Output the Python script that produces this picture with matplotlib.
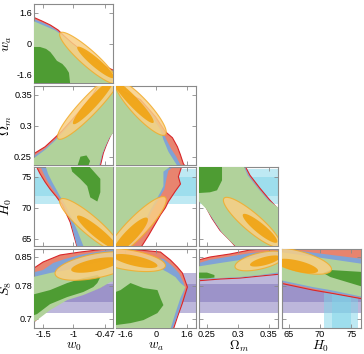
import numpy as np
import matplotlib
matplotlib.use("Agg")
import matplotlib.pyplot as plt

plt.rcParams["mathtext.fontset"] = "cm"
plt.rcParams["font.family"] = ["Liberation Sans", "DejaVu Sans"]
plt.rcParams["axes.unicode_minus"] = False

# ---------------------------------------------------------------- axes
param_labels = [r"$w_0$", r"$w_a$", r"$\Omega_m$", r"$H_0$", r"$S_8$"]
param_limits = [(-1.65, -0.34), (-2.05, 2.05), (0.237, 0.365), (63.8, 76.5), (0.678, 0.869)]
param_ticks = [[-1.5, -1, -0.47], [-1.6, 0, 1.6], [0.25, 0.3, 0.35], [65, 70, 75], [0.7, 0.78, 0.85]]
tick_text = [["-1.5", "-1", "-0.47"], ["-1.6", "0", "1.6"], ["0.25", "0.3", "0.35"],
             ["65", "70", "75"], ["0.7", "0.78", "0.85"]]

# external priors (mean, 1 and 2 sigma half widths)
h0_band_mean = 73.4
h0_band_sig = [1.55, 2.75]
s8_band_mean = 0.762
s8_band_sig = [0.022, 0.048]

# ---------------------------------------------------------------- contours (x list, y list)
# w0 - wa
red_w0_wa = ([-1.7, -1.52, -1.38, -1.25, -1.15, -1.02, -0.85, -0.68, -0.52, -0.3, -0.3, -1.7],
             [1.42, 1.17, 0.96, 0.70, 0.39, 0.03, -0.39, -0.75, -1.11, -1.44, -2.1, -2.1])
blue_w0_wa = ([-1.7, -1.52, -1.38, -1.25, -1.15, -1.02, -0.85, -0.68, -0.52, -0.3, -0.3, -1.7],
              [1.33, 1.10, 0.90, 0.63, 0.33, -0.02, -0.43, -0.79, -1.15, -1.48, -2.1, -2.1])
green_w0_wa = ([-1.7, -1.47, -1.3, -1.18, -1.05, -0.88, -0.72, -0.55, -0.3, -0.3, -1.7],
               [1.22, 0.91, 0.68, 0.42, 0.06, -0.35, -0.72, -1.08, -1.52, -2.1, -2.1])
dark_w0_wa = ([-1.7, -1.55, -1.45, -1.38, -1.33, -1.27, -1.18, -1.12, -1.07, -1.05, -1.7],
              [-0.18, -0.18, -0.28, -0.44, -0.64, -0.9, -1.06, -1.27, -1.52, -2.1, -2.1])
orange_w0_wa = [(-0.75, -0.75, 0.467, -1.30, -0.089, -0.309),
                (-0.63, -0.98, 0.30, -0.80, -0.05, -0.175)]

# w0 - Omega_m
red_w0_om = ([-1.7, -1.467, -1.3, -1.183, -1.017, -0.85, -0.683, -0.55, -0.3, -0.3, -0.383, -0.45, -0.5, -0.55, -1.7],
             [0.252, 0.266, 0.281, 0.292, 0.310, 0.329, 0.349, 0.370, 0.370, 0.297, 0.284, 0.269, 0.256, 0.235, 0.235])
blue_w0_om = ([-1.7, -1.467, -1.3, -1.183, -1.017, -0.85, -0.683, -0.55, -0.3, -0.3, -0.39, -0.457, -0.51, -0.56, -1.7],
              [0.248, 0.263, 0.278, 0.290, 0.308, 0.327, 0.347, 0.370, 0.370, 0.295, 0.282, 0.268, 0.255, 0.235, 0.235])
green_w0_om = ([-1.7, -1.467, -1.3, -1.183, -1.017, -0.85, -0.683, -0.55, -0.3, -0.3, -0.4, -0.467, -0.52, -0.57, -1.7],
               [0.244, 0.261, 0.276, 0.288, 0.306, 0.326, 0.346, 0.370, 0.370, 0.293, 0.281, 0.267, 0.254, 0.235, 0.235])
dark_w0_om = ([-0.93, -0.88, -0.78, -0.72, -0.75], [0.235, 0.250, 0.252, 0.243, 0.235])
orange_w0_om = [(-0.717, 0.334, 0.533, 0.055, 0.109, -0.010),
                (-0.667, 0.339, 0.333, 0.036, 0.062, -0.0055)]

# w0 - H0
red_w0_h0 = ([-1.63, -1.55, -1.467, -1.383, -1.283, -1.183, -1.05, -0.93, -0.3, -0.3],
             [77.0, 75.47, 74.15, 72.99, 71.82, 70.5, 67.68, 63.5, 63.5, 77.0])
blue_w0_h0 = ([-1.56, -1.49, -1.42, -1.34, -1.25, -1.165, -1.05, -0.93, -0.3, -0.3],
              [77.0, 75.47, 74.15, 72.99, 71.82, 70.6, 68.0, 63.5, 63.5, 77.0])
green_w0_h0 = ([-1.467, -1.417, -1.35, -1.283, -1.217, -1.15, -1.05, -0.933, -0.817, -0.3, -0.3],
               [77.0, 75.47, 74.15, 72.99, 71.82, 70.83, 68.84, 66.35, 63.5, 63.5, 77.0])
dark_w0_h0 = ([-1.05, -0.767, -0.55, -0.55, -0.6, -0.717, -0.767, -0.883, -1.017],
              [77.0, 77.0, 74.64, 72.49, 71.0, 71.66, 73.48, 74.64, 75.8])
orange_w0_h0 = [(-0.717, 67.18, 0.5, -4.15, 0.096, 1.15),
                (-0.6, 66.02, 0.333, -2.65, 0.052, 0.65)]

# wa - Omega_m
red_wa_om = ([-2.1, -0.806, -0.029, 0.489, 0.852, 1.11, 1.266, 1.42, 1.5, -2.1],
             [0.3618, 0.3423, 0.3148, 0.2904, 0.2807, 0.2661, 0.2532, 0.2386, 0.235, 0.235])
blue_wa_om = ([-2.1, -0.9, -0.15, 0.33, 0.55, 0.8, 1.05, 1.3, -2.1],
              [0.36, 0.342, 0.316, 0.292, 0.277, 0.262, 0.25, 0.235, 0.235])
green_wa_om = ([-2.1, -1.066, -0.288, 0.23, 0.385, 0.644, 1.11, -2.1],
               [0.3585, 0.3423, 0.318, 0.2937, 0.2775, 0.258, 0.235, 0.235])
orange_wa_om = [(-0.806, 0.3294, 1.295, -0.0438, 0.342, 0.0099),
                (-1.17, 0.339, 1.036, -0.034, 0.187, 0.0056)]

# wa - H0
red_wa_h0 = ([1.37, 1.16, 1.27, 1.0, 0.644, 0.489, 0.23, -0.081, -0.392, -0.806, -2.1, -2.1],
             [77.0, 74.98, 73.81, 72.65, 70.99, 70.0, 68.84, 67.18, 65.52, 63.5, 63.5, 77.0])
blue_wa_h0 = ([1.06, 0.644, 0.54, 0.44, 0.28, 0.075, -0.236, -0.55, -0.96, -1.38, -2.1, -2.1],
              [77.0, 75.97, 74.64, 72.99, 72.16, 70.99, 69.34, 67.35, 65.36, 63.5, 63.5, 77.0])
green_wa_h0 = ([0.903, 0.385, 0.385, 0.23, 0.023, -0.289, -0.6, -1.01, -1.43, -2.1, -2.1],
               [77.0, 75.8, 73.48, 72.49, 71.33, 69.67, 67.68, 65.52, 63.5, 63.5, 77.0])
orange_wa_h0 = [(-1.065, 66.68, 1.554, 4.975, 0.366, -1.17),
                (-1.325, 65.52, 0.88, 2.82, 0.22, -0.70)]

# Omega_m - H0
red_om_h0 = ([0.23, 0.2467, 0.258, 0.271, 0.2872, 0.2986, 0.37, 0.37, 0.352, 0.336, 0.3197, 0.31, 0.23],
             [72.5, 70.39, 68.3, 66.37, 64.76, 63.5, 63.5, 69.27, 71.2, 73.1, 75.2, 77.0, 77.0])
blue_om_h0 = ([0.23, 0.2475, 0.2595, 0.2725, 0.2885, 0.2995, 0.37, 0.37, 0.3505, 0.334, 0.318, 0.309, 0.23],
              [72.1, 70.1, 68.1, 66.2, 64.6, 63.5, 63.5, 69.5, 71.2, 73.1, 75.2, 77.0, 77.0])
green_om_h0 = ([0.23, 0.248, 0.261, 0.274, 0.29, 0.30, 0.37, 0.37, 0.349, 0.3326, 0.316, 0.308, 0.23],
               [71.7, 69.9, 68.0, 66.05, 64.4, 63.5, 63.5, 69.7, 71.2, 73.1, 75.2, 77.0, 77.0])
dark_om_h0 = ([0.23, 0.2743, 0.2743, 0.2662, 0.2548, 0.23],
              [77.0, 77.0, 74.4, 72.8, 72.48, 72.32])
orange_om_h0 = [(0.3229, 67.66, 0.0454, -3.86, 0.0095, 1.10),
                (0.3359, 66.69, 0.0276, -2.25, 0.0052, 0.62)]

# w0 - S8
red_w0_s8 = ([-1.7, -1.5, -1.217, -0.883, -0.6, -0.3, -0.3, -0.383, -0.55, -0.833, -1.1, -1.383, -1.7],
             [0.818, 0.8375, 0.8545, 0.8617, 0.8666, 0.872, 0.7965, 0.7939, 0.777, 0.7625, 0.7503, 0.7286, 0.686])
blue_w0_s8 = ([-1.7, -1.5, -1.333, -1.133, -0.883, -0.6, -0.3, -0.3, -0.383, -0.55, -0.833, -1.1, -1.383, -1.7],
              [0.811, 0.8182, 0.8351, 0.845, 0.855, 0.862, 0.868, 0.7975, 0.795, 0.7785, 0.764, 0.752, 0.7305, 0.69])
green_w0_s8 = ([-1.7, -1.383, -1.1, -0.833, -0.55, -0.3, -0.3, -0.383, -0.55, -0.833, -1.1, -1.383, -1.6, -1.7],
               [0.800, 0.811, 0.8182, 0.828, 0.8375, 0.848, 0.792, 0.7891, 0.7746, 0.7576, 0.7455, 0.7213, 0.6971, 0.69])
dark_w0_s8 = ([-1.7, -1.383, -1.1, -0.833, -0.6, -0.55, -0.6, -0.667, -0.833, -1.1, -1.383, -1.6, -1.7],
              [0.7576, 0.7697, 0.7867, 0.7988, 0.806, 0.8012, 0.7867, 0.777, 0.765, 0.7528, 0.7358, 0.7116, 0.7067])
orange_w0_s8 = [(-0.633, 0.8278, 0.667, 0.0194, 0.039, -0.0285),
                (-0.633, 0.8303, 0.40, 0.0121, 0.02, -0.0143)]

# wa - S8
red_wa_s8 = ([-2.1, 0.23, 0.748, 1.11, 1.37, 1.629, 1.37, 1.11, 0.903, -2.1],
             [0.872, 0.8617, 0.8424, 0.8254, 0.8109, 0.777, 0.7382, 0.7043, 0.675, 0.675])
blue_wa_s8 = ([-2.1, 0.4, 0.85, 1.2, 1.45, 1.5, 1.3, 1.05, 0.85, -2.1],
              [0.86, 0.845, 0.828, 0.81, 0.785, 0.77, 0.735, 0.70, 0.675, 0.675])
green_wa_s8 = ([-2.1, -0.3, 0.592, 1.007, 1.266, 1.525, 1.266, 1.007, 0.748, -2.1],
               [0.84, 0.835, 0.813, 0.8012, 0.7867, 0.777, 0.7503, 0.714, 0.675, 0.675])
dark_wa_s8 = ([-2.1, -1.84, -1.325, -0.651, 0.074, 0.23, 0.385, 0.074, -0.651, -1.325, -2.1],
              [0.765, 0.7697, 0.7867, 0.7746, 0.7697, 0.7503, 0.7334, 0.714, 0.6971, 0.6898, 0.685])
orange_wa_s8 = [(-1.428, 0.8424, 1.917, -0.0145, -0.083, -0.0239),
                (-1.066, 0.84, 1.14, -0.0121, -0.057, -0.0119)]

# Omega_m - S8
red_om_s8 = ([0.23, 0.2548, 0.2872, 0.3197, 0.37, 0.37, 0.3359, 0.3035, 0.271, 0.23],
             [0.84, 0.8496, 0.8569, 0.8666, 0.873, 0.8085, 0.8036, 0.7988, 0.7964, 0.7915])
blue_om_s8 = ([0.23, 0.2548, 0.2872, 0.3197, 0.37, 0.37, 0.3359, 0.3035, 0.271, 0.23],
              [0.832, 0.843, 0.851, 0.859, 0.866, 0.81, 0.805, 0.80, 0.798, 0.793])
green_om_s8 = ([0.23, 0.271, 0.3035, 0.3359, 0.37, 0.37, 0.3359, 0.3035, 0.271, 0.23],
               [0.8254, 0.8351, 0.8424, 0.8496, 0.8569, 0.8133, 0.806, 0.8012, 0.7988, 0.7964])
dark_om_s8 = ([0.235, 0.25, 0.262, 0.262, 0.25, 0.235],
              [0.812, 0.812, 0.806, 0.800, 0.798, 0.798])
orange_om_s8 = [(0.3359, 0.84, 0.0405, 0.0145, 0.003, -0.0188),
                (0.344, 0.84, 0.0243, 0.0097, 0.0016, -0.0094)]

# H0 - S8
red_h0_s8 = ([63.5, 70.0, 77.0, 77.0, 71.66, 68.84, 63.5],
             [0.875, 0.872, 0.869, 0.748, 0.7625, 0.7697, 0.7867])
blue_h0_s8 = ([63.5, 70.0, 77.0, 77.0, 71.66, 68.84, 63.5],
              [0.871, 0.858, 0.8448, 0.7505, 0.765, 0.7733, 0.790])
green_h0_s8 = ([63.5, 70.0, 77.0, 77.0, 71.66, 68.84, 63.5],
               [0.8617, 0.848, 0.8327, 0.7528, 0.7697, 0.777, 0.7939])
dark_h0_s8 = ([70.5, 71.66, 77.0, 77.0, 71.66],
              [0.811, 0.8182, 0.8133, 0.777, 0.8012])
orange_h0_s8 = [(66.35, 0.84, 5.47, -0.0218, -0.436, -0.0234),
                (66.35, 0.8278, 3.32, -0.0121, -0.23, -0.0128)]

# ---------------------------------------------------------------- styling
RED_FILL, RED_EDGE = "#e8846f", "#d8262a"
BLUE_FILL = "#80a3d6"
GREEN_LIGHT, GREEN_DARK = "#b1d29b", "#4e9c33"
ORANGE_LIGHT, ORANGE_DARK, ORANGE_EDGE = "#f9cf85", "#f1a311", "#f2ac2a"
CYAN = "#7fd5e8"
PURPLE = "#7d71b8"
SPINE = "#8a8a8a"

panels = {
    (0, 1): (red_w0_wa, blue_w0_wa, green_w0_wa, dark_w0_wa, orange_w0_wa),
    (0, 2): (red_w0_om, blue_w0_om, green_w0_om, dark_w0_om, orange_w0_om),
    (0, 3): (red_w0_h0, blue_w0_h0, green_w0_h0, dark_w0_h0, orange_w0_h0),
    (1, 2): (red_wa_om, blue_wa_om, green_wa_om, None, orange_wa_om),
    (1, 3): (red_wa_h0, blue_wa_h0, green_wa_h0, None, orange_wa_h0),
    (2, 3): (red_om_h0, blue_om_h0, green_om_h0, dark_om_h0, orange_om_h0),
    (0, 4): (red_w0_s8, blue_w0_s8, green_w0_s8, dark_w0_s8, orange_w0_s8),
    (1, 4): (red_wa_s8, blue_wa_s8, green_wa_s8, dark_wa_s8, orange_wa_s8),
    (2, 4): (red_om_s8, blue_om_s8, green_om_s8, dark_om_s8, orange_om_s8),
    (3, 4): (red_h0_s8, blue_h0_s8, green_h0_s8, dark_h0_s8, orange_h0_s8),
}


def ellipse(c):
    """Ellipse from centre and two conjugate semi-axis vectors (data units)."""
    cx, cy, ax_, ay_, bx, by = c
    t = np.linspace(0, 2 * np.pi, 120)
    return cx + ax_ * np.cos(t) + bx * np.sin(t), cy + ay_ * np.cos(t) + by * np.sin(t)


W, H = 364, 354
fig = plt.figure(figsize=(W / 100, H / 100), dpi=100)
col_left = [34, 116.5, 199, 281.5]
row_top = [4, 85.7, 167.3, 249]
size = 79

for (xi, yi), (red, blue, green, dark, orange) in panels.items():
    r, c = yi - 1, xi
    ax = fig.add_axes([col_left[c] / W, 1 - (row_top[r] + size) / H, size / W, size / H])

    # prior bands
    if yi == 3:
        for s in h0_band_sig[::-1]:
            ax.axhspan(h0_band_mean - s, h0_band_mean + s, color=CYAN, alpha=0.5, lw=0, zorder=0)
    if yi == 4:
        for s in s8_band_sig[::-1]:
            ax.axhspan(s8_band_mean - s, s8_band_mean + s, color=PURPLE, alpha=0.5, lw=0, zorder=0)
    if xi == 3:
        for s in h0_band_sig[::-1]:
            ax.axvspan(h0_band_mean - s, h0_band_mean + s, color=CYAN, alpha=0.5, lw=0, zorder=0)

    ax.fill(*red, fc=RED_FILL, ec=RED_EDGE, lw=0.8, zorder=1)
    ax.fill(*blue, fc=BLUE_FILL, ec="none", zorder=2)
    ax.fill(*green, fc=GREEN_LIGHT, ec="none", zorder=3)
    if dark is not None:
        ax.fill(*dark, fc=GREEN_DARK, ec="none", zorder=4)
    ex, ey = ellipse(orange[0])
    ax.fill(ex, ey, fc=ORANGE_LIGHT, ec=ORANGE_EDGE, lw=0.8, alpha=0.85, zorder=5)
    ex, ey = ellipse(orange[1])
    ax.fill(ex, ey, fc=ORANGE_DARK, ec="none", alpha=0.9, zorder=6)

    ax.set_xlim(param_limits[xi])
    ax.set_ylim(param_limits[yi])
    ax.set_xticks(param_ticks[xi])
    ax.set_yticks(param_ticks[yi])
    ax.tick_params(direction="in", length=3, width=0.6, color=SPINE, top=True, right=True,
                   labelsize=6.6, pad=1.5)
    for sp in ax.spines.values():
        sp.set_color(SPINE)
        sp.set_linewidth(0.8)
    if r == 3:
        ax.set_xticklabels(tick_text[xi])
        fig.text((col_left[c] + size / 2) / W, 1 - 346.5 / H, param_labels[xi],
                 fontsize=9.5, ha="center", va="center")
    else:
        ax.set_xticklabels([])
    if c == 0:
        ax.set_yticklabels(tick_text[yi])
        fig.text(6.5 / W, 1 - (row_top[r] + size / 2) / H, param_labels[yi],
                 fontsize=10, ha="center", va="center", rotation=90)
    else:
        ax.set_yticklabels([])

fig.savefig("out.png", dpi=100)
